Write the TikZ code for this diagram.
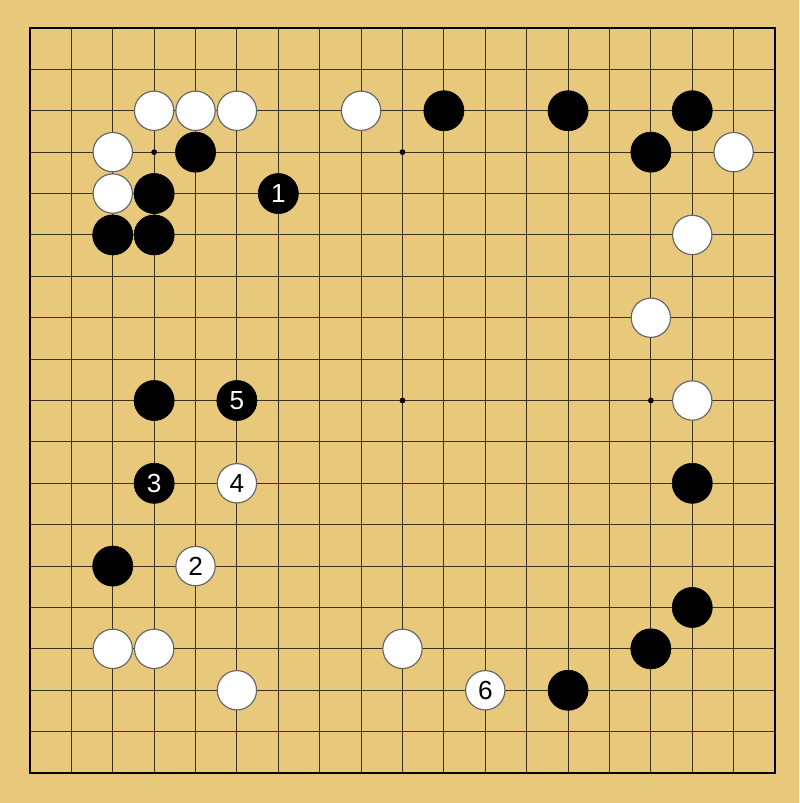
\documentclass[tikz,border=0pt]{standalone}
\usepackage{fontspec}
\setmainfont{Liberation Sans}
\usepackage{xcolor}
\usepackage{tikz}
\usetikzlibrary{positioning}
\definecolor{boardbg}{RGB}{232,201,123}
\definecolor{gridline}{RGB}{60,50,30}

\begin{document}
\begin{tikzpicture}[
    x=1cm, y=1cm,
    black stone/.style={circle, fill=black, draw=black, line width=0.4pt, minimum size=0.97cm, inner sep=0pt, text=white, font=\fontsize{18}{18}\selectfont},
    white stone/.style={circle, fill=white, draw=black!60, line width=0.8pt, minimum size=0.95cm, inner sep=0pt, text=black, font=\fontsize{18}{18}\selectfont},
    hoshi/.style={circle, fill=black, minimum size=0.14cm, inner sep=0pt}
]

% Background and board
\fill[boardbg] (-0.724,0.676) rectangle (18.58,-18.724);
\useasboundingbox (-0.724,0.676) rectangle (18.58,-18.724);
\foreach \i in {1,...,17} {
    \draw[gridline, line width=0.7pt] (\i,0) -- (\i,-18);
    \draw[gridline, line width=0.7pt] (0,-\i) -- (18,-\i);
}
\draw[black, line width=2pt] (0,0) rectangle (18,-18);

% Star points
\foreach \c/\r in {3/3,9/3,15/3,3/9,9/9,15/9,3/15,9/15,15/15}
    \node[hoshi] at (\c,-\r) {};

% Black stones
\node[black stone] (b10c2) at (10,-2) {};
\node[black stone] (b13c2) at (13,-2) {};
\node[black stone] (b16c2) at (16,-2) {};
\node[black stone] (b4c3) at (4,-3) {};
\node[black stone] (b15c3) at (15,-3) {};
\node[black stone] (b3c4) at (3,-4) {};
\node[black stone] (b2c5) at (2,-5) {};
\node[black stone] (b3c5) at (3,-5) {};
\node[black stone] (b3c9) at (3,-9) {};
\node[black stone] (b16c11) at (16,-11) {};
\node[black stone] (b2c13) at (2,-13) {};
\node[black stone] (b16c14) at (16,-14) {};
\node[black stone] (b15c15) at (15,-15) {};
\node[black stone] (b13c16) at (13,-16) {};

% White stones
\node[white stone] (w3c2) at (3,-2) {};
\node[white stone] (w4c2) at (4,-2) {};
\node[white stone] (w5c2) at (5,-2) {};
\node[white stone] (w8c2) at (8,-2) {};
\node[white stone] (w2c3) at (2,-3) {};
\node[white stone] (w17c3) at (17,-3) {};
\node[white stone] (w2c4) at (2,-4) {};
\node[white stone] (w16c5) at (16,-5) {};
\node[white stone] (w15c7) at (15,-7) {};
\node[white stone] (w16c9) at (16,-9) {};
\node[white stone] (w2c15) at (2,-15) {};
\node[white stone] (w3c15) at (3,-15) {};
\node[white stone] (w9c15) at (9,-15) {};
\node[white stone] (w5c16) at (5,-16) {};

% Numbered moves
\node[black stone] (move1) at (6,-4) {1};
\node[white stone] (move2) at (4,-13) {2};
\node[black stone] (move3) at (3,-11) {3};
\node[white stone] (move4) at (5,-11) {4};
\node[black stone] (move5) at (5,-9) {5};
\node[white stone] (move6) at (11,-16) {6};

\end{tikzpicture}
\end{document}
